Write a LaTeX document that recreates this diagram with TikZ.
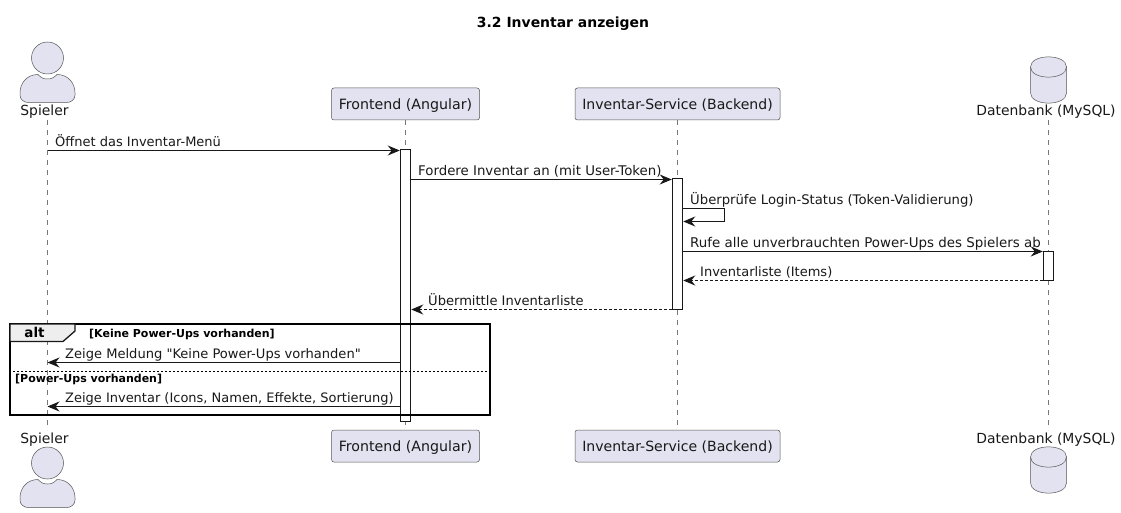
\documentclass[tikz,border=0pt]{standalone}
\usepackage{fontspec}
\setmainfont{DejaVu Sans}
\newfontfamily\rawfont{DejaVu Sans}
\usetikzlibrary{arrows.meta}
\definecolor{pfill}{HTML}{E2E2F0}
\definecolor{pline}{HTML}{181818}
\definecolor{gline}{HTML}{555555}
\definecolor{lifegray}{HTML}{777777}
\definecolor{tabfill}{HTML}{EEEEEE}
\newcommand{\actorshape}[1]{%
  \fill[pfill] (47.5,#1) circle (16);
  \draw[thinl] (47.5,#1) circle (16);
  \path[draw=gline,line width=.5pt,fill=pfill]
    (47.5,#1+21) .. controls (43,#1+21) and (41,#1+19.5) .. (38,#1+16.5)
    .. controls (27,#1+16.5) and (20,#1+25) .. (20,#1+35)
    -- (20,#1+37) .. controls (20,#1+41.5) and (24,#1+44.5) .. (28,#1+44.5)
    -- (67,#1+44.5) .. controls (71,#1+44.5) and (75,#1+41.5) .. (75,#1+37)
    -- (75,#1+35) .. controls (75,#1+25) and (68,#1+16.5) .. (57,#1+16.5)
    .. controls (54,#1+19.5) and (52,#1+21) .. (47.5,#1+21) -- cycle;
}
\newcommand{\dbshape}[1]{%
  \path[draw=gline,line width=.5pt,fill=pfill]
    (1030.5,#1+10) .. controls (1030.5,#1-3.5) and (1066.5,#1-3.5) .. (1066.5,#1+10)
    -- (1066.5,#1+36) .. controls (1066.5,#1+49.5) and (1030.5,#1+49.5) .. (1030.5,#1+36) -- cycle;
  \draw[thinl] (1030.5,#1+10) .. controls (1030.5,#1+23.5) and (1066.5,#1+23.5) .. (1066.5,#1+10);
}
\tikzset{
  x=1pt,y=-1pt,
  thinl/.style={draw=gline,line width=.5pt},
  lifeline/.style={draw=lifegray,line width=.5pt,dash pattern=on 5pt off 5pt},
  partbox/.style={draw=gline,line width=.5pt,fill=pfill,rounded corners=2.5pt,minimum height=32pt,inner xsep=0pt,inner ysep=0pt,text height=11pt,text depth=0pt,font=\fontsize{#1}{16}\selectfont,text=black!90},
  plain/.style={inner sep=0pt,anchor=base,font=\fontsize{13.9}{16}\selectfont,text=black!90},
  msgtext/.style={inner sep=0pt,anchor=base west,font=\fontsize{#1}{16}\selectfont,text=black!90},
  activ/.style={draw=pline,line width=1pt,fill=white,inner sep=0pt,minimum width=10.5pt},
  msg/.style={draw=pline,line width=1pt,-{Stealth[length=12pt,width=10pt,inset=4pt,fill=pline]}},
  rmsg/.style={msg,dash pattern=on 2.5pt off 2.5pt},
  guard/.style={inner sep=0pt,anchor=base west,font=\bfseries\fontsize{11}{12}\selectfont,text=black},
}
\begin{document}
\begin{tikzpicture}
\useasboundingbox (0,0) rectangle (1121,513);
\fill[white] (0,0) rectangle (1121,513);
\node[inner sep=0pt,anchor=base,font=\bfseries\fontsize{13.95}{16}\selectfont] (title) at (563,27.3) {3.2 Inventar anzeigen};

% lifeline ends
\coordinate (sT) at (47.5,120); \coordinate (sB) at (47.5,430);
\coordinate (dT) at (1048.5,120); \coordinate (dB) at (1048.5,430);

% participants
\node[partbox=14.2,minimum width=148pt] (fT) at (405.5,104) {Frontend (Angular)};
\node[partbox=14.2,minimum width=148pt] (fB) at (405.5,446) {Frontend (Angular)};
\node[partbox=14.05,minimum width=205pt] (bT) at (677.5,104) {Inventar-Service (Backend)};
\node[partbox=14.05,minimum width=205pt] (bB) at (677.5,446) {Inventar-Service (Backend)};

\draw[lifeline] (sT) -- (sB);
\draw[lifeline] (fT) -- (fB);
\draw[lifeline] (bT) -- (bB);
\draw[lifeline] (dT) -- (dB);

% activations
\node[activ,minimum height=271pt] (af) at (405.5,285.5) {};
\node[activ,minimum height=130pt] (ab) at (677.5,244) {};
\node[activ,minimum height=29pt] (ad) at (1048.5,265.5) {};

% actors, database
\actorshape{58}
\actorshape{463}
\dbshape{57}
\dbshape{447}
\node[plain] (sl1) at (44.5,116) {Spieler};
\node[plain] (sl2) at (44.5,443.3) {Spieler};
\node[plain] (dl1) at (1046,116) {Datenbank (MySQL)};
\node[plain] (dl2) at (1046,443.3) {Datenbank (MySQL)};

% alt frame
\node[inner sep=0pt,minimum width=480pt,minimum height=91pt,draw=black,line width=1.7pt] (alt) at (250,369.5) {};
\path[draw=pline,line width=1.3pt,fill=tabfill] (10,324) -- (75,324) -- (75,331) -- (63,341.5) -- (10,341.5) -- cycle;
\node[inner sep=0pt,anchor=base,font=\bfseries\fontsize{13.5}{16}\selectfont] (alttxt) at (34.5,337) {alt};
\node[guard] (g1) at (89,337) {[Keine Power-Ups vorhanden]};
\node[guard] (g2) at (15,382) {[Power-Ups vorhanden]};
\draw[draw=black,line width=.8pt,dash pattern=on 2pt off 2pt] (alt.west |- 0,371.5) coordinate (sepa) -- (alt.east |- 0,371.5) coordinate (sepb);

% message anchors
\coordinate (m1a) at (47.5,150.5); \coordinate (m1b) at (af.west |- m1a);
\coordinate (m2a) at (af.east |- 0,179.5); \coordinate (m2b) at (ab.west |- m2a);
\coordinate (m3a) at (ab.east |- 0,208.5); \coordinate (m3b) at (724.5,208.5);
\coordinate (m3c) at (724.5,221.5); \coordinate (m3d) at (ab.east |- m3c);
\coordinate (m4a) at (ab.east |- 0,251.5); \coordinate (m4b) at (ad.west |- m4a);
\coordinate (m5a) at (ad.west |- 0,280.5); \coordinate (m5b) at (ab.east |- m5a);
\coordinate (m6a) at (ab.west |- 0,309.5); \coordinate (m6b) at (af.east |- m6a);
\coordinate (m7a) at (af.west |- 0,362.5); \coordinate (m7b) at (47.5,362.5);
\coordinate (m8a) at (af.west |- 0,406.5); \coordinate (m8b) at (47.5,406.5);

\draw[msg] (m1a) -- (m1b);
\draw[msg] (m2a) -- (m2b);
\draw[msg] (m3a) -- (m3b) -- (m3c) -- (m3d);
\draw[msg] (m4a) -- (m4b);
\draw[rmsg] (m5a) -- (m5b);
\draw[rmsg] (m6a) -- (m6b);
\draw[msg] (m7a) -- (m7b);
\draw[msg] (m8a) -- (m8b);

\node[msgtext=13] (t1) at (55,146.5) {Öffnet das Inventar-Menü};
\node[msgtext=13.33] (t2) at (418,175.5) {Fordere Inventar an (mit User-Token)};
\node[msgtext=13.2] (t3) at (690,204.5) {Überprüfe Login-Status (Token-Validierung)};
\node[msgtext=13.4] (t4) at (690,247.5) {Rufe alle unverbrauchten Power-Ups des Spielers ab};
\node[msgtext=13] (t5) at (700,276.5) {Inventarliste (Items)};
\node[msgtext=13.07] (t6) at (428,305.5) {Übermittle Inventarliste};
\node[msgtext=13.06] (t7) at (65,358.5) {\rawfont Zeige Meldung "Keine Power-Ups vorhanden"};
\node[msgtext=12.98] (t8) at (65,402.5) {Zeige Inventar (Icons, Namen, Effekte, Sortierung)};
\end{tikzpicture}
\end{document}
